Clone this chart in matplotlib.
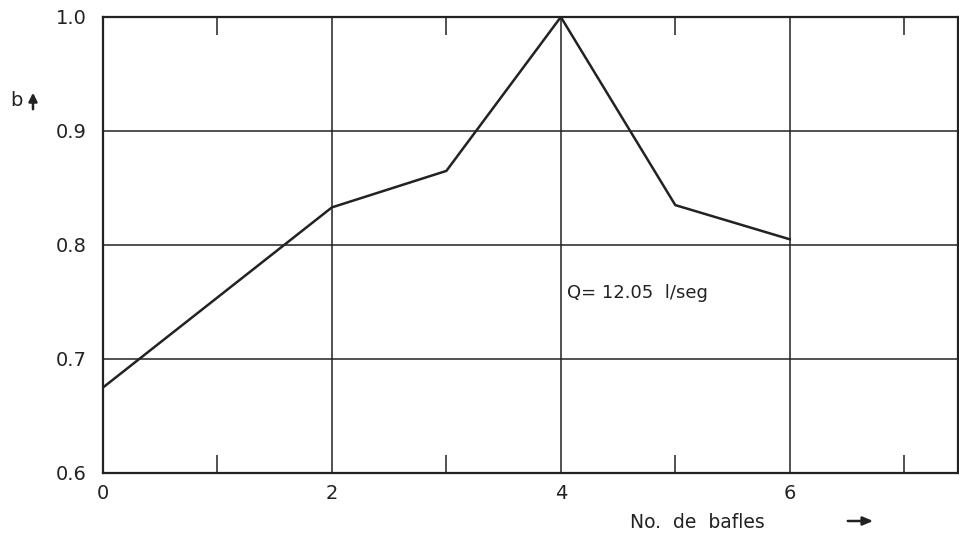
import matplotlib
matplotlib.use("Agg")
import matplotlib.pyplot as plt

x_baffles = [0, 2, 3, 4, 5, 6]
b_values = [0.675, 0.833, 0.865, 1.0, 0.835, 0.805]
x_major = [0, 2, 4, 6]
x_minor = [1, 3, 5, 7]
y_ticks = [0.6, 0.7, 0.8, 0.9, 1.0]
y_labels = ["0.6", "0.7", "0.8", "0.9", "1.0"]

plt.rcParams['font.family'] = ['DejaVu Sans']
fig = plt.figure(figsize=(9.59, 5.34), dpi=100)
ax = fig.add_axes([103/959, 1-473/534, (958-103)/959, (473-17)/534])
ink = "#222222"

ax.plot(x_baffles, b_values, color=ink, lw=1.8, zorder=3)
ax.set_xlim(0, 7.47)
ax.set_ylim(0.6, 1.0)

for xv in x_major[1:]:
    ax.axvline(xv, color=ink, lw=1.1, zorder=1)
for yv in y_ticks[1:-1]:
    ax.axhline(yv, color=ink, lw=1.1, zorder=1)

ax.set_xticks(x_major)
ax.set_xticklabels([str(v) for v in x_major])
ax.set_xticks(x_minor, minor=True)
ax.set_yticks(y_ticks)
ax.set_yticklabels(y_labels)
ax.tick_params(axis='x', which='major', length=0, pad=8, labelsize=14, colors=ink)
ax.tick_params(axis='x', which='minor', direction='in', length=13, width=1.1,
               top=True, bottom=True, color=ink)
ax.tick_params(axis='y', which='major', length=0, pad=12, labelsize=14, colors=ink)
for s in ax.spines.values():
    s.set_linewidth(1.6)
    s.set_color(ink)

fig.text(10/959, 1-101/534, "b", fontsize=14, color=ink, va='center', ha='left')
fig.patches.append(matplotlib.patches.FancyArrowPatch(
    (33/959, 1-112/534), (33/959, 1-90/534), transform=fig.transFigure,
    arrowstyle='-|>,head_length=5,head_width=2.5', lw=1.8, color=ink))
ax.text(4.05, 0.758, "Q= 12.05  l/seg", fontsize=13, color=ink, va='center', ha='left')
fig.text(630/959, 1-523/534, "No.  de  bafles", fontsize=13.5, color=ink,
         va='center', ha='left')
fig.patches.append(matplotlib.patches.FancyArrowPatch(
    (845/959, 1-521/534), (876/959, 1-521/534), transform=fig.transFigure,
    arrowstyle='-|>,head_length=6,head_width=2.5', lw=1.8, color=ink))

fig.savefig("out.png", dpi=100)
